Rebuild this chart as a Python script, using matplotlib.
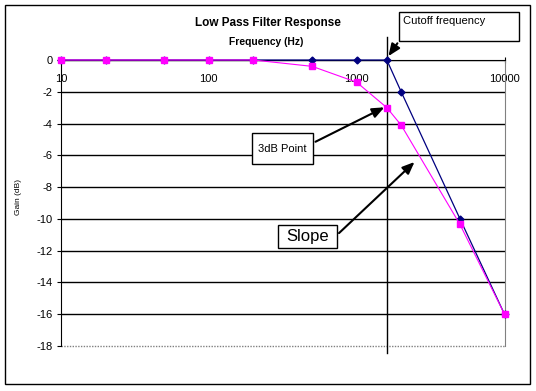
import matplotlib.pyplot as plt
from matplotlib.patches import Rectangle

# Frekvenser och förstärkning (dB)
freqs = [10, 20, 50, 100, 200, 500, 1000, 1600, 2000, 5000, 10000]
gain_ideal = [0, 0, 0, 0, 0, 0, 0, 0, -2.0, -10.0, -16.0]
gain_real = [0, 0, 0, 0, 0, -0.4, -1.4, -3.0, -4.1, -10.35, -16.0]
cutoff = 1600

x_ticks = [10, 100, 1000, 10000]
y_ticks = list(range(-18, 1, 2))

plt.rcParams["font.family"] = ["Liberation Sans", "DejaVu Sans"]

W, H = 536, 391
fig = plt.figure(figsize=(W / 100, H / 100), dpi=100)


# Hjälpfunktion: pixel i bilden -> figurkoordinater
def px(x, y):
    return (x / W, 1 - y / H)


ax = fig.add_axes([61 / W, 1 - 346 / H, (504.5 - 61) / W, (346 - 60) / H])

ax.plot(freqs, gain_ideal, color="#000080", lw=0.9, marker="D", ms=3.5,
        zorder=3, clip_on=False)
ax.plot(freqs, gain_real, color="#FF00FF", lw=0.8, marker="s", ms=4.5,
        zorder=4, clip_on=False)

ax.set_xscale("log")
ax.set_xlim(10, 10000)
ax.set_ylim(-18, 0)
ax.set_xticks(x_ticks)
ax.set_xticklabels([str(t) for t in x_ticks])
ax.xaxis.set_minor_locator(plt.NullLocator())
ax.set_yticks(y_ticks)
ax.set_yticklabels([str(t) for t in y_ticks])

# X-axeln korsar vid 0 som i Excel
ax.spines["bottom"].set_position(("data", 0))
ax.spines["top"].set_visible(False)
ax.spines["right"].set_color("gray")
ax.spines["right"].set_linestyle((0, (1, 1)))
ax.axhline(-18, color="gray", lw=1, ls=(0, (1, 1)), clip_on=False)

ax.tick_params(axis="x", direction="inout", length=4, pad=8, labelsize=8)
ax.tick_params(axis="y", direction="out", length=3, pad=3, labelsize=8)

ax.yaxis.grid(True, color="black", lw=1)
ax.get_ygridlines()[0].set_visible(False)
ax.set_axisbelow(True)

ax.set_ylabel("Gain (dB)", fontsize=6)
ax.yaxis.set_label_coords(-39 / 443.5, 0.52)

# Linje för brytfrekvensen
ax.axvline(cutoff, ymin=-0.025, ymax=1.08, color="black", lw=1, clip_on=False, zorder=2)

fig.text(*px(268, 23), "Low Pass Filter Response", ha="center", va="center",
         fontsize=8.5, fontweight="bold")
fig.text(*px(266, 42), "Frequency (Hz)", ha="center", va="center",
         fontsize=7.4, fontweight="bold")

# Ram runt hela diagrammet
fig.patches.append(Rectangle(px(5, 384), 525 / W, 379 / H, transform=fig.transFigure,
                             fill=False, edgecolor="black", lw=1))

# Textrutor med pilar
boxes = [
    ("Cutoff frequency", 399, 12, 120, 29, 8, "top"),
    ("3dB Point", 252, 133, 61, 31, 8, "center"),
    ("Slope", 278, 225, 59, 23, 12, "center"),
]
for text, bx, by, bw, bh, size, pos in boxes:
    fig.patches.append(Rectangle(px(bx, by + bh), bw / W, bh / H, transform=fig.transFigure,
                                 facecolor="white", edgecolor="black", lw=1, zorder=5))
    if pos == "top":
        fig.text(*px(bx + 4, by + 4), text, ha="left", va="top", fontsize=size, zorder=6)
    else:
        fig.text(*px(bx + bw / 2, by + bh / 2), text, ha="center", va="center",
                 fontsize=size, zorder=6)

arrow = dict(arrowstyle="-|>,head_length=0.6,head_width=0.25", color="black",
             lw=1.5, mutation_scale=12)
ax.annotate("", xy=(cutoff, 0.1), xytext=px(399, 41), textcoords="figure fraction",
            arrowprops=arrow, annotation_clip=False)
ax.annotate("", xy=(cutoff, -2.9), xytext=px(313, 143), textcoords="figure fraction",
            arrowprops=arrow)
ax.annotate("", xy=(2540, -6.3), xytext=px(337, 235), textcoords="figure fraction",
            arrowprops=arrow)

fig.savefig("out.png", dpi=100)
